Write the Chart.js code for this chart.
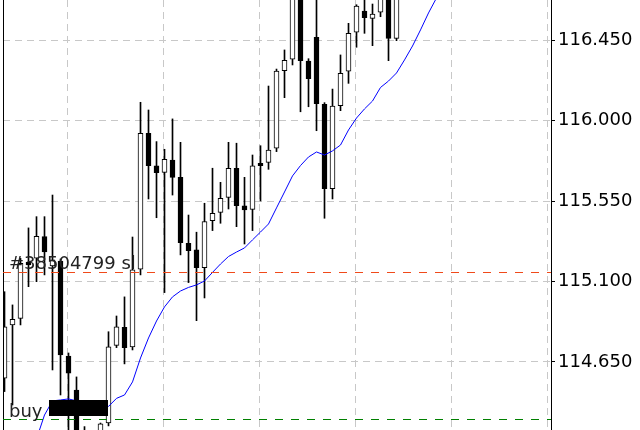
<!DOCTYPE html>
<html>
<head>
<meta charset="utf-8">
<script src="https://cdn.jsdelivr.net/npm/chart.js@4"></script>
<style>
  html,body{margin:0;padding:0;background:#fff;}
  #wrap{width:640px;height:430px;}
</style>
</head>
<body>
<div id="wrap"><canvas id="c" width="640" height="430"></canvas></div>
<script>
// bars, left to right (index 0..49); the ones after 49 are above the window
const candleOpen  = [114.559,114.857,114.894,115.209,115.230,115.351,115.187,115.215,114.683,114.493,
                     114.213,114.157,114.236,114.308,114.743,114.844,114.734,115.169,115.930,115.747,
                     115.711,115.780,115.683,115.314,115.277,115.178,115.440,115.487,115.571,115.734,
                     115.523,115.504,115.762,115.767,115.846,116.280,116.344,116.759,116.334,116.467,
                     116.092,115.620,116.084,116.277,116.495,116.614,116.573,116.607,116.731,116.461];
const candleHigh  = [115.043,114.969,115.230,115.400,115.463,115.463,115.584,115.226,114.700,114.566,
                     114.288,114.241,114.308,114.819,114.907,115.014,115.349,116.103,116.060,115.883,
                     115.840,116.010,115.879,115.472,115.376,115.538,115.734,115.655,115.879,115.874,
                     115.683,115.808,115.860,116.194,116.289,116.396,116.843,116.815,116.347,116.703,
                     116.101,116.177,116.368,116.545,116.649,116.703,116.653,116.759,116.787,116.815];
const candleLow   = [114.484,114.409,114.857,115.071,115.099,115.137,114.605,114.465,114.258,114.101,
                     114.045,114.101,114.185,114.292,114.730,114.639,114.717,115.137,115.562,115.457,
                     115.038,115.584,115.249,115.094,114.881,115.008,115.385,115.426,115.506,115.407,
                     115.310,115.385,115.551,115.728,115.827,116.129,116.312,116.050,116.078,115.944,
                     115.454,115.562,116.056,116.209,116.411,116.489,116.420,116.582,116.336,116.448];
const candleClose = [114.847,114.889,115.202,115.193,115.353,115.265,115.221,114.689,114.587,114.185,
                     114.129,114.202,114.303,114.735,114.847,114.730,115.165,115.930,115.748,115.709,
                     115.784,115.683,115.317,115.273,115.178,115.436,115.482,115.566,115.734,115.524,
                     115.500,115.747,115.748,115.836,116.278,116.338,116.787,116.336,116.235,116.095,
                     115.620,116.082,116.265,116.489,116.642,116.576,116.597,116.731,116.461,116.759];

// moving average, starts at bar 4
const maStart = 4;
const maValues = [114.219,114.353,114.432,114.437,114.443,114.432,114.420,114.409,114.404,114.401,
                  114.446,114.465,114.538,114.672,114.784,114.879,114.958,115.014,115.047,115.067,
                  115.081,115.103,115.151,115.198,115.240,115.265,115.288,115.333,115.377,115.422,
                  115.512,115.601,115.691,115.749,115.797,115.825,115.808,115.831,115.864,115.948,
                  116.015,116.066,116.110,116.186,116.222,116.267,116.340,116.418,116.508,116.603,116.687];

const yTicks = [114.650, 115.100, 115.550, 116.000, 116.450];
const xGridAt = [7.875, 19.875, 31.875, 43.875, 55.875, 67.875];
const yMin = 114.269, yMax = 116.6755;
const xMin = -0.1875, xMax = 68.3125;

const slLevel = 115.152, slText = '#38504799 sl';
const buyLevel = 114.331, buyText = 'buy';
const buyMark = {from: 5.5625, to: 12.94, top: 114.437, bottom: 114.348};

const FONT = '"DejaVu Sans", Verdana, sans-serif';

const overlays = {
  id: 'overlays',
  afterDatasetsDraw(chart){
    const {ctx, chartArea: a, scales: {x, y}} = chart;
    ctx.save();
    // left frame
    ctx.strokeStyle = '#000'; ctx.lineWidth = 1; ctx.setLineDash([]);
    ctx.beginPath(); ctx.moveTo(a.left + 0.5, a.top); ctx.lineTo(a.left + 0.5, a.bottom); ctx.stroke();

    const level = (v, col)=>{
      const py = Math.round(y.getPixelForValue(v)) + 0.5;
      ctx.strokeStyle = col; ctx.setLineDash([8, 8]);
      ctx.beginPath(); ctx.moveTo(a.left, py); ctx.lineTo(a.right, py); ctx.stroke();
      return py;
    };
    const slY = level(slLevel, '#f04a1a');
    const buyY = level(buyLevel, '#008000');
    ctx.setLineDash([]);

    // trade marker block
    const bx0 = Math.round(x.getPixelForValue(buyMark.from));
    const bx1 = Math.round(x.getPixelForValue(buyMark.to));
    const by0 = Math.round(y.getPixelForValue(buyMark.top));
    const by1 = Math.round(y.getPixelForValue(buyMark.bottom));
    ctx.fillStyle = '#000';
    ctx.fillRect(bx0, by0, bx1 - bx0, by1 - by0);

    ctx.font = '18px ' + FONT;
    ctx.fillStyle = '#222';
    ctx.textBaseline = 'alphabetic';
    ctx.fillText(slText, a.left + 6, slY - 3.5);
    ctx.fillText(buyText, a.left + 6, buyY - 2.5);
    ctx.restore();
  }
};

const bodies = candleOpen.map((o, i) => ({x: i, y: [o, candleClose[i]]}));
const wicks = candleLow.map((l, i) => ({x: i, y: [l, candleHigh[i]]}));
const ma = maValues.map((v, k) => ({x: maStart + k, y: v}));

new Chart(document.getElementById('c'), {
  type: 'bar',
  data: {
    datasets: [
      {type: 'line', data: ma, borderColor: '#0000ff', borderWidth: 1, pointRadius: 0, tension: 0, order: 0},
      {data: bodies, order: 1, barThickness: 5, grouped: false, borderSkipped: false, borderWidth: 1,
       borderColor: '#000',
       backgroundColor: candleOpen.map((o, i) => candleClose[i] >= o ? '#fff' : '#000')},
      {data: wicks, order: 2, barThickness: 1, grouped: false, borderWidth: 0, backgroundColor: '#000'}
    ]
  },
  options: {
    responsive: false,
    devicePixelRatio: 1,
    animation: false,
    layout: {padding: {left: 3, top: 0, right: 0, bottom: 0}},
    plugins: {legend: {display: false}, tooltip: {enabled: false}},
    scales: {
      x: {
        type: 'linear', min: xMin, max: xMax, offset: false,
        ticks: {display: false},
        border: {display: false, dash: [7, 5]},
        grid: {offset: false, color: '#c8c8c8', drawTicks: false, lineWidth: 1},
        afterBuildTicks: s => { s.ticks = xGridAt.map(v => ({value: v})); },
        afterFit: s => { s.height = 0; s.paddingLeft = 0; s.paddingRight = 0; }
      },
      y: {
        type: 'linear', position: 'right', min: yMin, max: yMax,
        border: {display: true, color: '#000', width: 1, dash: [7, 5]},
        grid: {color: '#c8c8c8', lineWidth: 1,
               drawTicks: true, tickLength: 4, tickColor: '#000', tickWidth: 1, tickBorderDash: []},
        ticks: {color: '#000', padding: 3, font: {family: FONT, size: 18},
                callback: v => Number(v).toFixed(3)},
        afterBuildTicks: s => { s.ticks = yTicks.map(v => ({value: v})); },
        afterFit: s => { s.width = 89; s.paddingTop = 0; s.paddingBottom = 0; }
      }
    }
  },
  plugins: [overlays]
});
</script>
</body>
</html>
